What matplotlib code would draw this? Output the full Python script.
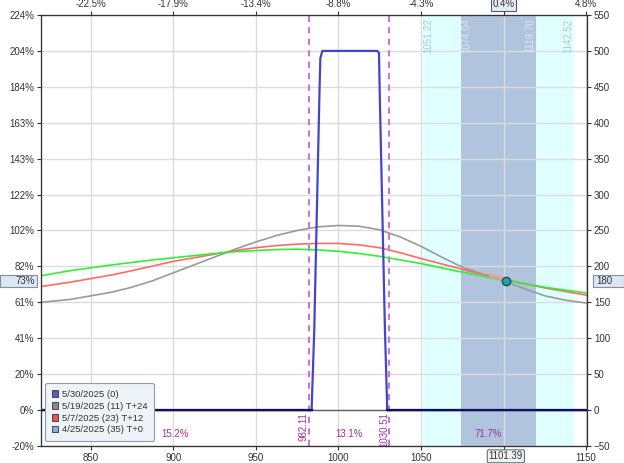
import numpy as np
import matplotlib
matplotlib.use("Agg")
import matplotlib.pyplot as plt
from matplotlib.patches import Patch, Rectangle
from matplotlib.transforms import blended_transform_factory

plt.rcParams['font.family'] = ['Liberation Sans', 'DejaVu Sans']

# --- data -------------------------------------------------------------
price = [820, 837.5, 850, 862.5, 875, 887.5, 900, 912.5, 925, 937.5, 950, 962.5, 975, 987.5,
         1000, 1012.5, 1025, 1037.5, 1050, 1062.5, 1075, 1087.5, 1100, 1112.5, 1125, 1137.5, 1150]
pl_t24 = [150, 154, 159, 164, 171, 180, 191, 202, 213, 224, 234, 243, 250, 255,
          257, 256, 251, 241, 228, 213, 199, 189, 180, 169, 159, 153, 149]
pl_t12 = [172, 178, 183, 188, 194, 200.5, 207, 212, 217, 222, 226, 229, 231, 232,
          232, 230, 226, 219, 211, 203.5, 196, 189, 182, 176, 170, 165, 160]
pl_t0 = [187, 194, 198, 202, 205.5, 209, 212, 215, 218, 220.5, 222, 223.5, 224, 223,
         221, 218, 214, 209, 204, 198, 192, 186.5, 181, 176, 171, 167, 163]

exp_price = [820, 983.8, 985.4, 988.6, 989.1, 990.3, 1023.6, 1024.6, 1025.0, 1028.2, 1029.6, 1150]
exp_pl = [0, 0, 111, 446, 490, 500, 500, 497, 445, 111, 0, 0]

current_price = 1101.39
current_pl = 180
current_pct = '73%'

breakevens = [982.11, 1030.51]
region_probs = ['15.2%', '13.1%', '71.7%']
sd1 = [1074.04, 1119.70]
sd2 = [1051.22, 1142.52]

legend_labels = ['5/30/2025 (0)', '5/19/2025 (11) T+24', '5/7/2025 (23) T+12', '4/25/2025 (35) T+0']
legend_colors = ['#5a5ac0', '#8a8a8a', '#f05050', '#8fa8e8']

x_ticks = [850, 900, 950, 1000, 1050, 1100, 1150]
x_labels = ['850', '900', '950', '1000', '1050', '', '1150']
top_labels = ['-22.5%', '-17.9%', '-13.4%', '-8.8%', '-4.3%', '0.4%', '4.8%']
y_ticks = [-50, 0, 50, 100, 150, 200, 250, 300, 350, 400, 450, 500, 550]
left_labels = ['-20%', '0%', '20%', '41%', '61%', '82%', '102%', '122%', '143%', '163%', '184%', '204%', '224%']

XMIN, XMAX = 820, 1150.5
YMIN, YMAX = -50, 550
txt = '#333333'

fig = plt.figure(figsize=(6.24, 4.63), dpi=100)
ax = fig.add_axes([41 / 624, 1 - 446 / 463, (587 - 41) / 624, (446 - 15) / 463])
ax.set_xlim(XMIN, XMAX)
ax.set_ylim(YMIN, YMAX)

# std-dev bands
ax.axvspan(sd2[0], sd2[1], color='#e0ffff', zorder=0.1, lw=0)
ax.axvspan(sd1[0], sd1[1], color='#b0c4de', zorder=0.2, lw=0)
for i, v in enumerate(sd2 + sd1):
    inner = i >= 2
    left_side = v in (sd2[0], sd1[0])
    ax.text(v + (3.5 if left_side else -3.5), 545, f'{v:.2f}', rotation=90,
            ha='center', va='top', fontsize=7,
            color='#dfe8f2' if inner else '#a9cadb', zorder=1)

ax.grid(True, color='#dcdcdc', lw=1)
ax.set_axisbelow(True)

# breakeven lines
for b in breakevens:
    ax.axvline(b, color='#c878d0', lw=1.5, ls=(0, (3, 2.5)), zorder=2)
    ax.text(b - 3, -3, f'{b:.2f}', rotation=90, ha='center', va='top',
            fontsize=7, color='#a030a0', zorder=5)

edges = [XMIN] + breakevens + [XMAX]
for i, p in enumerate(region_probs):
    ax.text((edges[i] + edges[i + 1]) / 2, -33, p, ha='center', va='center',
            fontsize=7, color='#a030a0')

# zero line
ax.axhline(0, color='#606060', lw=1, zorder=2)

# curves
ax.plot(price, pl_t24, color='#9a9a9a', lw=1.2, zorder=3)
ax.plot(price, pl_t12, color='#ff6a6a', lw=1.2, zorder=3)
ax.plot(price, pl_t0, color='#33ee33', lw=1.2, zorder=3)
ax.plot(exp_price, exp_pl, color='#4444cc', lw=1.6, zorder=4)
exp_zero = np.ma.masked_where(np.array(exp_pl) != 0, exp_pl)
ax.plot(exp_price, exp_zero, color='#10105a', lw=1.6, zorder=4)

# current position marker
seg_x = [current_price - 9, current_price]
ax.plot(seg_x, np.interp(seg_x, price, pl_t12) + 1, color='#f4a08c', lw=3, alpha=0.8, zorder=4)
ax.plot(current_price, current_pl, 'o', ms=6, mfc='#1aa6ac', mec='#1d4f5a', mew=1, zorder=6)

# axes / ticks
ax.set_xticks(x_ticks)
ax.set_xticklabels(x_labels)
ax.set_yticks(y_ticks)
ax.set_yticklabels(left_labels)
for s in ax.spines.values():
    s.set_color(txt)
ax.tick_params(labelsize=7, colors=txt, length=3, pad=2)

ax_r = ax.twinx()
ax_r.set_ylim(YMIN, YMAX)
ax_r.set_yticks(y_ticks)
ax_r.tick_params(labelsize=7, colors=txt, length=3, pad=2)

ax_t = ax.twiny()
ax_t.set_xlim(XMIN, XMAX)
ax_t.set_xticks(x_ticks)
ax_t.set_xticklabels(top_labels)
ax_t.tick_params(labelsize=7, colors=txt, length=3, pad=1)
for s in list(ax_r.spines.values()) + list(ax_t.spines.values()):
    s.set_color(txt)
for lab in ax_t.get_xticklabels():
    if lab.get_text() == '0.4%':
        lab.set_bbox(dict(boxstyle='square,pad=0.15', fc='#e6edf5', ec='#4a5a78', lw=0.8))

# boxed current values on the axes
bt = blended_transform_factory(fig.transFigure, ax.transData)
box_h = 17
fig.patches.append(Rectangle((0, current_pl - box_h / 2), 37 / 624, box_h, transform=bt,
                             fc='#dde7f3', ec='#7f8fa8', lw=0.8))
fig.text(35 / 624, current_pl, current_pct, transform=bt, ha='right', va='center',
         fontsize=7, color=txt)
fig.patches.append(Rectangle((593 / 624, current_pl - box_h / 2), 31 / 624, box_h, transform=bt,
                             fc='#dde7f3', ec='#7f8fa8', lw=0.8))
fig.text(596 / 624, current_pl, str(current_pl), transform=bt, ha='left', va='center',
         fontsize=7, color=txt)
ax.annotate(f'{current_price:.2f}', xy=(current_price, 0),
            xycoords=blended_transform_factory(ax.transData, ax.transAxes),
            xytext=(0, -3.8), textcoords='offset points', ha='center', va='top',
            fontsize=7, color=txt,
            bbox=dict(boxstyle='round,pad=0.15', fc='#f2f2f2', ec='#607080', lw=0.8))

# legend
handles = [Patch(fc=c, ec='#333333', lw=0.6) for c in legend_colors]
leg = ax.legend(handles, legend_labels, loc='lower left', bbox_to_anchor=(45 / 624, 1 - 441 / 463),
                bbox_transform=fig.transFigure, fontsize=6.8, handlelength=0.7, handleheight=0.7,
                handletextpad=0.4, labelspacing=0.3, borderpad=0.7, borderaxespad=0, fancybox=True,
                framealpha=1, facecolor='#eef3f8', edgecolor='#8c9cb0')
leg.get_frame().set_linewidth(0.8)
for t in leg.get_texts():
    t.set_color(txt)
leg.set_zorder(10)

fig.savefig('out.png', dpi=100)
